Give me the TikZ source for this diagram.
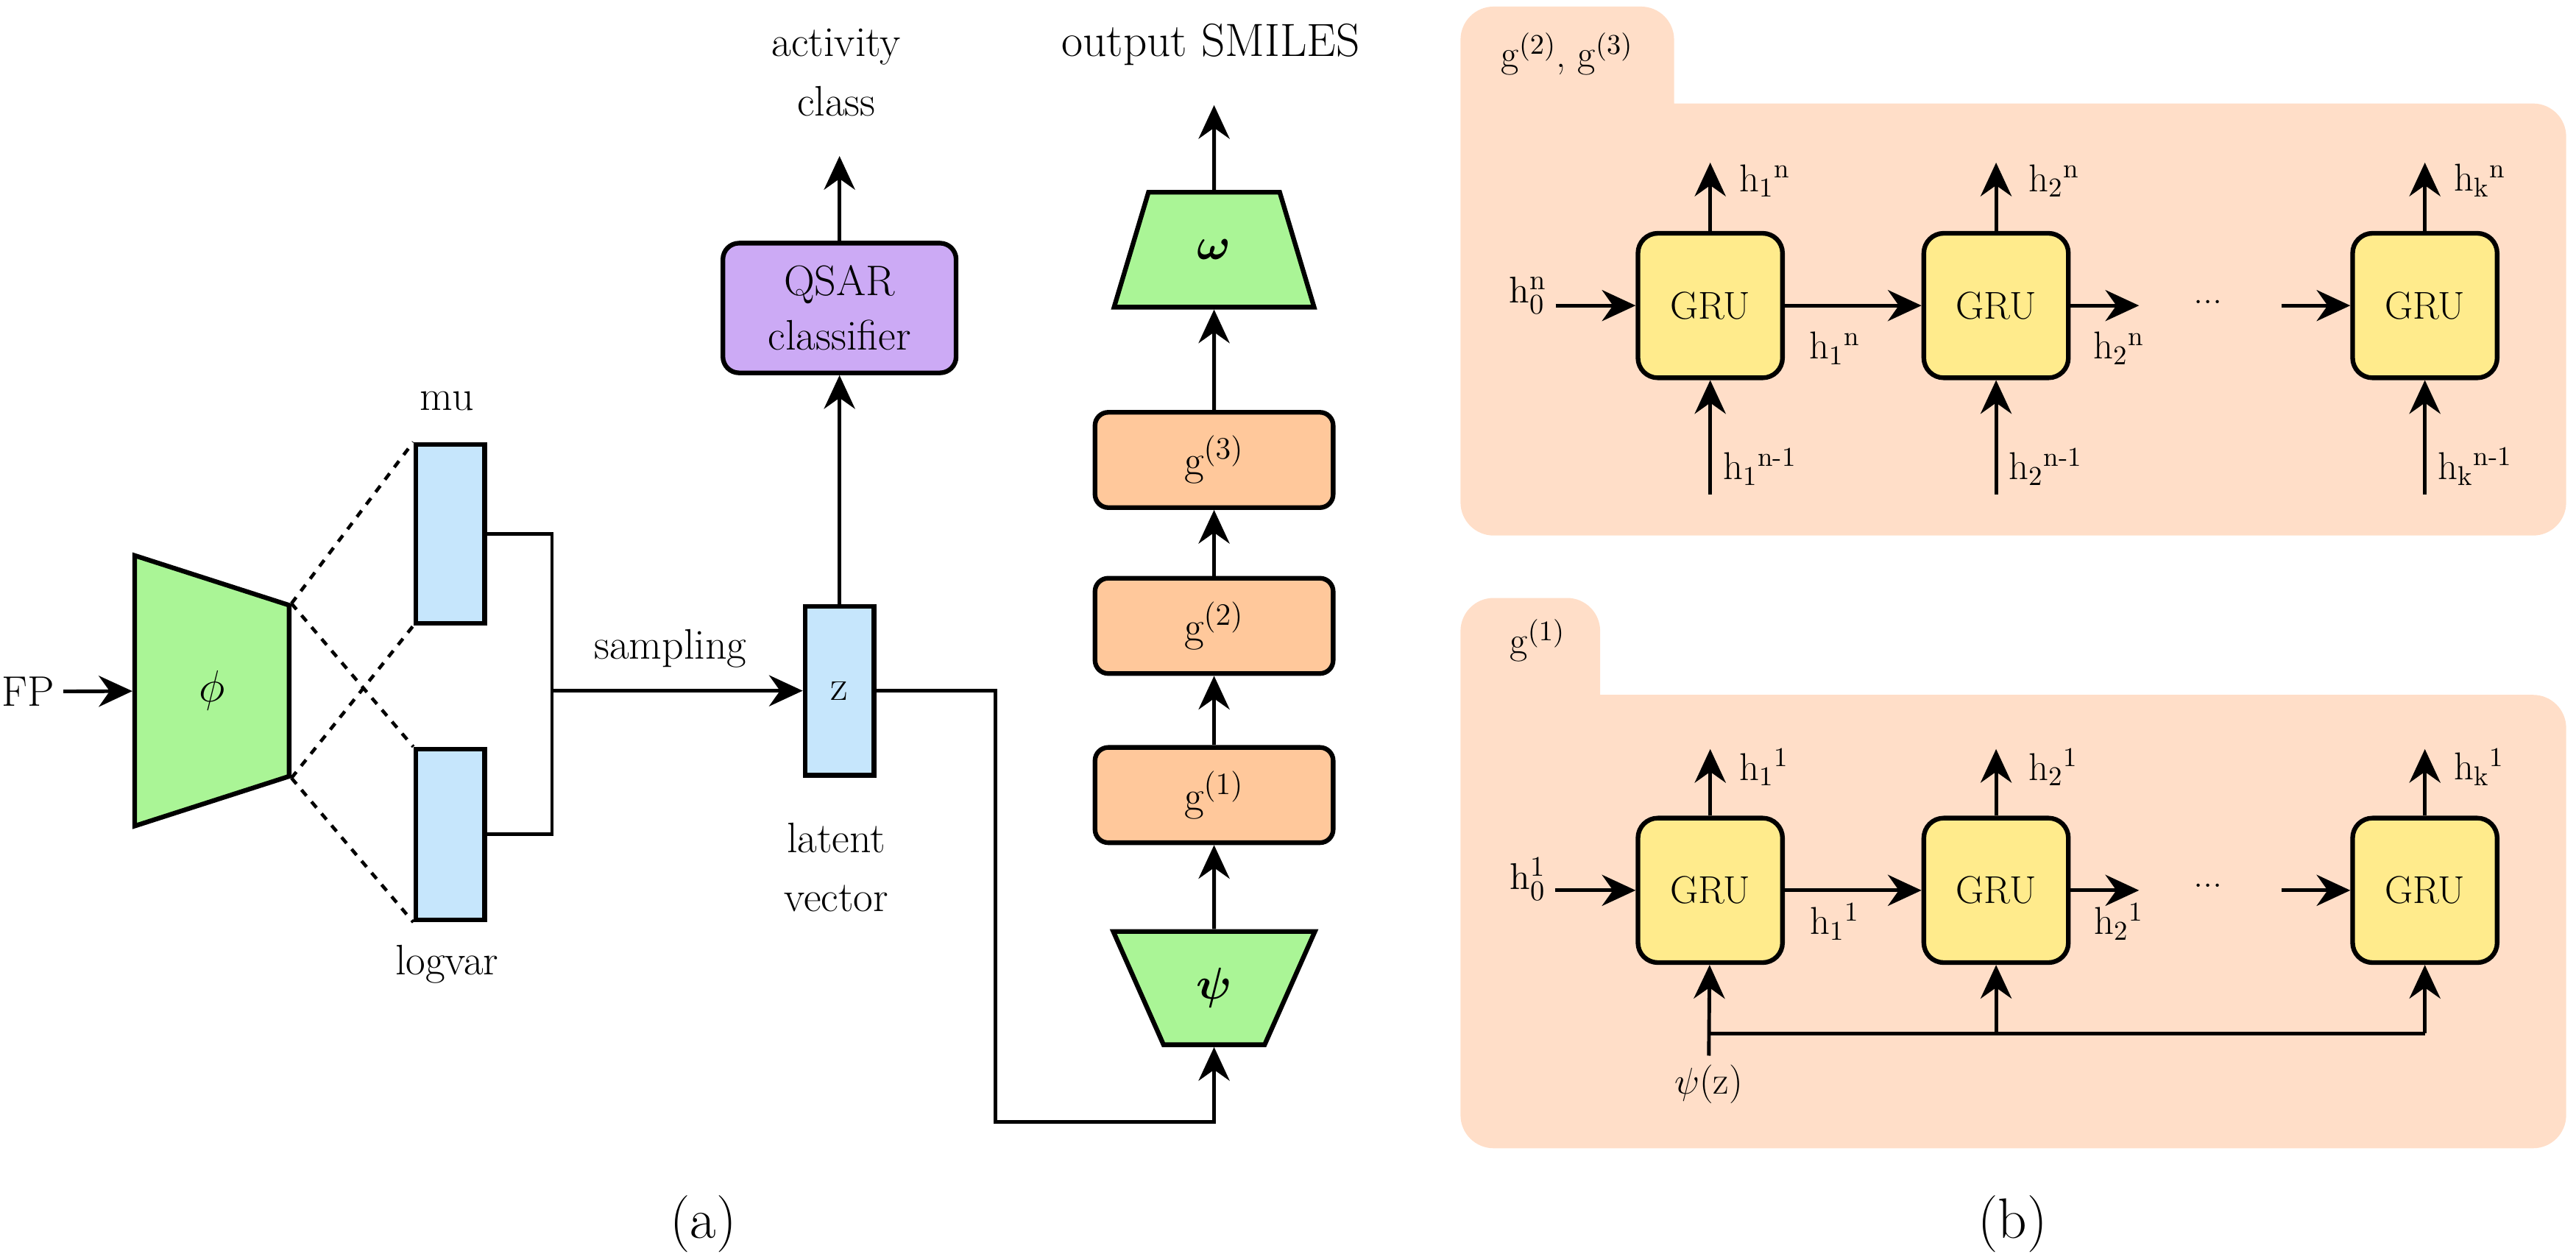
\documentclass[tikz,border=0pt]{standalone}
\usepackage{amsmath,amssymb}
\usetikzlibrary{positioning,arrows.meta,shapes.geometric}
\definecolor{encgreen}{RGB}{170,245,150}
\definecolor{latentblue}{RGB}{198,230,252}
\definecolor{qsarpurple}{RGB}{204,170,245}
\definecolor{layerpeach}{RGB}{255,200,155}
\definecolor{panelpeach}{RGB}{255,222,200}
\definecolor{gruyellow}{RGB}{255,235,140}
\newcommand{\hst}[2]{h\textsubscript{#1}\textsuperscript{#2}}

\begin{document}
\begin{tikzpicture}[x=0.02232cm, y=-0.02232cm,
    every node/.style={font=\fontsize{16.5}{21}\selectfont},
    ptext/.style={font=\fontsize{15}{20}\selectfont},
    arr/.style={-{Stealth[length=13pt,width=12pt]}, line width=1.4pt},
    wire/.style={line width=1.4pt},
    vecbox/.style={draw, line width=1.8pt, fill=latentblue, minimum width=0.937cm, inner sep=0pt},
    layerbox/.style={draw, line width=1.8pt, fill=layerpeach, rounded corners=0.18cm, minimum width=3.236cm, minimum height=1.295cm},
    grubox/.style={draw, line width=1.8pt, fill=gruyellow, rounded corners=0.27cm, minimum width=1.964cm, minimum height=1.964cm, ptext},
    trap/.style={draw, line width=1.8pt, fill=encgreen, trapezium, trapezium stretches=true, trapezium left angle=66, trapezium right angle=66, inner sep=0pt},
    hlab/.style={anchor=west, inner sep=1pt, ptext}]
  \useasboundingbox (0,0) rectangle (1568,763);

  % panels of (b)
  \fill[panelpeach] (889,326) [rounded corners=0.45cm] -- (889,4) -- (1019,4) [sharp corners] -- (1019,63) [rounded corners=0.45cm] -- (1562,63) -- (1562,326) -- cycle;
  \fill[panelpeach] (889,699) [rounded corners=0.45cm] -- (889,364) -- (974,364) [sharp corners] -- (974,423) [rounded corners=0.45cm] -- (1562,423) -- (1562,699) -- cycle;

  % encoder
  \node (fp) at (17,421) {FP};
  \node[trap, shape border rotate=270, minimum width=3.683cm, minimum height=2.098cm] (phi) at (129,420.5) {$\phi$};
  \draw[arr] (fp) -- (phi);
  \node[vecbox, minimum height=2.433cm] (mu) at (274,325) {};
  \node[vecbox, minimum height=2.321cm] (logvar) at (274,508) {};
  \node (mulab) at (272,244) {mu};
  \node (lvlab) at (272,587) {logvar};
  \draw[dashed, line width=1.3pt] (phi.top left corner) -- (mu.north west);
  \draw[dashed, line width=1.3pt] (phi.top left corner) -- (logvar.north west);
  \draw[dashed, line width=1.3pt] (phi.top right corner) -- (mu.south west);
  \draw[dashed, line width=1.3pt] (phi.top right corner) -- (logvar.south west);

  % latent vector
  \coordinate (join) at (336,420.5);
  \draw[wire] (mu.east) -| (join) |- (logvar.east);
  \node[vecbox, minimum height=2.299cm] (z) at (511,420.5) {z};
  \draw[arr] (join) -- (z);
  \node (samplab) at (408,395) {sampling};
  \node[align=center] (latlab) at (509,528) {latent\\[2pt]vector};

  % qsar head
  \node[draw, line width=1.8pt, fill=qsarpurple, rounded corners=0.22cm, minimum width=3.169cm, minimum height=1.763cm, align=center] (qsar) at (511,187.5) {QSAR\\classifier};
  \coordinate (actout) at (511,95);
  \draw[arr] (z) -- (qsar);
  \draw[arr] (qsar) -- (actout);
  \node[align=center] (actlab) at (509,44) {activity\\[2pt]class};

  % decoder
  \node[trap, shape border rotate=180, minimum width=2.745cm, minimum height=1.540cm] (psi) at (739,601.5) {$\boldsymbol{\psi}$};
  \node[layerbox] (g1) at (739,484) {g$^{(1)}$};
  \node[layerbox] (g2) at (739,381) {g$^{(2)}$};
  \node[layerbox] (g3) at (739,280) {g$^{(3)}$};
  \node[trap, minimum width=2.723cm, minimum height=1.562cm] (omega) at (739,152) {$\boldsymbol{\omega}$};
  \coordinate (smout) at (739,64);
  \node[font=\fontsize{18}{22}\selectfont] (smlab) at (737,27) {output SMILES};
  \coordinate (zturn) at (606,683);
  \draw[arr] (z.east) -| (zturn) -| (psi.south);
  \draw[arr] (psi) -- (g1);
  \draw[arr] (g1) -- (g2);
  \draw[arr] (g2) -- (g3);
  \draw[arr] (g3) -- (omega);
  \draw[arr] (omega) -- (smout);

  % (b) top: g2, g3
  \node[ptext] (tabt) at (954,33) {g$^{(2)}$, g$^{(3)}$};
  \node[grubox] (grut1) at (1041,186) {GRU};
  \node[grubox] (grut2) at (1215,186) {GRU};
  \node[grubox] (grut3) at (1476,186) {GRU};
  \node[ptext] (h0t) at (930,180) {$\mathrm{h}^{\mathrm{n}}_0$};
  \node[ptext] (dotst) at (1344,184) {...};
  \coordinate (gapt1) at (1302,186);
  \coordinate (gapt2) at (1389,186);
  \draw[arr] (h0t.east |- grut1) -- (grut1);
  \draw[arr] (grut1) -- (grut2);
  \draw[arr] (grut2) -- (gapt1);
  \draw[arr] (gapt2) -- (grut3);
  \node[ptext] (hlt1) at (1117,212) {\hst{1}{n}};
  \node[ptext] (hlt2) at (1290,212) {\hst{2}{n}};
  \coordinate (outt1) at (1041,99);
  \coordinate (outt2) at (1215,99);
  \coordinate (outt3) at (1476,99);
  \draw[arr] (grut1) -- (outt1);
  \draw[arr] (grut2) -- (outt2);
  \draw[arr] (grut3) -- (outt3);
  \node[hlab] at (1057,110) {\hst{1}{n}};
  \node[hlab] at (1233,110) {\hst{2}{n}};
  \node[hlab] at (1492,110) {\hst{k}{n}};
  \coordinate (int1) at (1041,301);
  \coordinate (int2) at (1215,301);
  \coordinate (int3) at (1476,301);
  \draw[arr] (int1) -- (grut1);
  \draw[arr] (int2) -- (grut2);
  \draw[arr] (int3) -- (grut3);
  \node[hlab] at (1047,284) {\hst{1}{n-1}};
  \node[hlab] at (1221,284) {\hst{2}{n-1}};
  \node[hlab] at (1482,284) {\hst{k}{n-1}};

  % (b) bottom: g1
  \node[ptext] (tabb) at (936,390) {g$^{(1)}$};
  \node[grubox] (grub1) at (1041,542) {GRU};
  \node[grubox] (grub2) at (1215,542) {GRU};
  \node[grubox] (grub3) at (1476,542) {GRU};
  \node[ptext] (h0b) at (930,535) {$\mathrm{h}^{1}_0$};
  \node[ptext] (dotsb) at (1344,539) {...};
  \coordinate (gapb1) at (1302,542);
  \coordinate (gapb2) at (1389,542);
  \draw[arr] (h0b.east |- grub1) -- (grub1);
  \draw[arr] (grub1) -- (grub2);
  \draw[arr] (grub2) -- (gapb1);
  \draw[arr] (gapb2) -- (grub3);
  \node[ptext] (hlb1) at (1117,561) {\hst{1}{1}};
  \node[ptext] (hlb2) at (1290,561) {\hst{2}{1}};
  \coordinate (outb1) at (1041,456);
  \coordinate (outb2) at (1215,456);
  \coordinate (outb3) at (1476,456);
  \draw[arr] (grub1) -- (outb1);
  \draw[arr] (grub2) -- (outb2);
  \draw[arr] (grub3) -- (outb3);
  \node[hlab] at (1057,467) {\hst{1}{1}};
  \node[hlab] at (1233,467) {\hst{2}{1}};
  \node[hlab] at (1492,467) {\hst{k}{1}};
  \node[ptext] (psiz) at (1040,660) {$\psi$(z)};
  \coordinate (bus) at (1041,629);
  \coordinate (bus2) at (1215,629);
  \coordinate (bus3) at (1476,629);
  \draw[arr] (psiz) -- (grub1);
  \draw[wire] (bus) -- (bus3);
  \draw[arr] (bus2) -- (grub2);
  \draw[arr] (bus3) -- (grub3);

  \node[font=\fontsize{22}{26}\selectfont] (capa) at (428,745) {(a)};
  \node[font=\fontsize{22}{26}\selectfont] (capb) at (1225,745) {(b)};
\end{tikzpicture}
\end{document}
